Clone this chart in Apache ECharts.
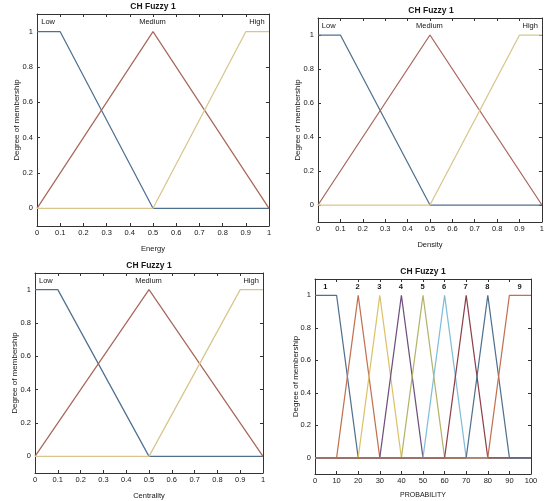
<!DOCTYPE html>
<html>
<head>
<meta charset="utf-8">
<script src="https://cdn.jsdelivr.net/npm/echarts@6/dist/echarts.min.js"></script>
<style>
  html, body { margin: 0; padding: 0; background: #fff; }
  #chart { width: 547px; height: 501px; }
</style>
</head>
<body>
<div id="chart"></div>
<script>
// Three-set membership functions (Low / Medium / High) shared by Energy, Density, Centrality
const termNames = ['Low', 'Medium', 'High'];
const termPeaks = [0.05, 0.5, 0.95];
const mfLow    = [[0, 1], [0.1, 1], [0.5, 0], [1, 0]];
const mfMedium = [[0, 0], [0.5, 1], [1, 0]];
const mfHigh   = [[0, 0], [0.5, 0], [0.9, 1], [1, 1]];

const inputNames = ['Energy', 'Density', 'Centrality'];

// Nine-set output membership functions on PROBABILITY
const probNames = ['1', '2', '3', '4', '5', '6', '7', '8', '9'];
const probPeaks = [5, 20, 30, 40, 50, 60, 70, 80, 95];
const mfP1 = [[0, 1], [10, 1], [20, 0], [100, 0]];
const mfP2 = [[0, 0], [10, 0], [20, 1], [30, 0], [100, 0]];
const mfP3 = [[0, 0], [20, 0], [30, 1], [40, 0], [100, 0]];
const mfP4 = [[0, 0], [30, 0], [40, 1], [50, 0], [100, 0]];
const mfP5 = [[0, 0], [40, 0], [50, 1], [60, 0], [100, 0]];
const mfP6 = [[0, 0], [50, 0], [60, 1], [70, 0], [100, 0]];
const mfP7 = [[0, 0], [60, 0], [70, 1], [80, 0], [100, 0]];
const mfP8 = [[0, 0], [70, 0], [80, 1], [90, 0], [100, 0]];
const mfP9 = [[0, 0], [80, 0], [90, 1], [100, 1]];

const yTicks = [0, 0.2, 0.4, 0.6, 0.8, 1];
const labelLevel = 1.05;

const termColors = ['#4f7190', '#a8675a', '#d9c58c'];
const probColors = ['#4f7190', '#c2704f', '#dcc267', '#6e4f7e', '#b3b36a', '#7fbddb', '#8c3f4c', '#4f7190', '#c2704f'];

// Plot boxes for the four panels
const boxes = [
  { left: 37,  top: 14,  width: 232, height: 212, name: inputNames[0], nameGap: 19, yGap: 16 },
  { left: 318, top: 18,  width: 226, height: 204, name: inputNames[1], nameGap: 19, yGap: 16 },
  { left: 35,  top: 273, width: 228, height: 208, name: inputNames[2], nameGap: 19, yGap: 16 },
  { left: 315, top: 279, width: 216, height: 195, name: 'PROBABILITY', nameGap: 18, yGap: 15 }
];

const FONT = 'Liberation Sans, Arial, Helvetica, sans-serif';
const INK = '#161616';
const FRAME = '#333333';

const grid = [], xAxis = [], yAxis = [], title = [], series = [];

boxes.forEach((b, i) => {
  grid.push({ left: b.left, top: b.top, width: b.width, height: b.height, containLabel: false });
  title.push({
    text: 'CH Fuzzy 1', padding: 0,
    left: b.left + b.width / 2, top: b.top - 12, textAlign: 'center',
    textStyle: { fontFamily: FONT, fontSize: 8.5, fontWeight: 'bold', color: INK }
  });
  const isProb = i === 3;
  const xCommon = {
    type: 'value', gridIndex: i,
    min: 0, max: isProb ? 100 : 1, interval: isProb ? 10 : 0.1,
    splitLine: { show: false },
    axisLine: { show: true, onZero: false, lineStyle: { color: FRAME, width: 1 } },
    axisTick: { show: true, inside: true, length: 3, lineStyle: { color: FRAME } }
  };
  xAxis.push(Object.assign({}, xCommon, {
    position: 'bottom',
    name: b.name, nameLocation: 'middle', nameGap: b.nameGap, nameMoveOverlap: false,
    nameTextStyle: { fontFamily: FONT, fontSize: isProb ? 7 : 7.5, color: INK },
    axisLabel: { show: true, margin: 3, fontFamily: FONT, fontSize: 7.5, color: INK }
  }));
  xAxis.push(Object.assign({}, xCommon, { position: 'top', axisLabel: { show: false } }));

  const yCommon = {
    type: 'value', gridIndex: i, min: -0.1, max: 1.1,
    splitLine: { show: false },
    axisLine: { show: true, onZero: false, lineStyle: { color: FRAME, width: 1 } },
    axisTick: { show: true, inside: true, length: 3, customValues: yTicks, lineStyle: { color: FRAME } }
  };
  yAxis.push(Object.assign({}, yCommon, {
    position: 'left',
    name: 'Degree of membership', nameLocation: 'middle', nameGap: b.yGap, nameMoveOverlap: false,
    nameTextStyle: { fontFamily: FONT, fontSize: 8, color: INK },
    axisLabel: { show: true, margin: 4, customValues: yTicks, fontFamily: FONT, fontSize: 7.5, color: INK }
  }));
  yAxis.push(Object.assign({}, yCommon, { position: 'right', axisLabel: { show: false } }));
});

function mfLine(data, color, panel) {
  return {
    type: 'line', data: data, xAxisIndex: panel * 2, yAxisIndex: panel * 2,
    showSymbol: false, symbol: 'none', silent: true,
    lineStyle: { color: color, width: 1.25 }
  };
}

// Set names written at each membership function's peak
function termLabels(names, peaks, panel) {
  return {
    type: 'scatter', xAxisIndex: panel * 2, yAxisIndex: panel * 2,
    symbolSize: 1, silent: true,
    itemStyle: { opacity: 0 },
    data: names.map((n, k) => ({ value: [peaks[k], labelLevel], name: n })),
    label: {
      show: true, position: [0, 0], align: 'center', verticalAlign: 'middle',
      formatter: p => p.name, opacity: 1,
      textBorderWidth: 0,
      fontFamily: FONT, fontSize: 7.5,
      fontWeight: panel === 3 ? 'bold' : 'normal', color: INK
    }
  };
}

[0, 1, 2].forEach(p => {
  series.push(mfLine(mfLow, termColors[0], p));
  series.push(mfLine(mfMedium, termColors[1], p));
  series.push(mfLine(mfHigh, termColors[2], p));
  series.push(termLabels(termNames, termPeaks, p));
});

[mfP1, mfP2, mfP3, mfP4, mfP5, mfP6, mfP7, mfP8, mfP9].forEach((d, k) => {
  series.push(mfLine(d, probColors[k], 3));
});
series.push(termLabels(probNames, probPeaks, 3));

const chart = echarts.init(document.getElementById('chart'), null, { renderer: 'canvas' });
chart.setOption({
  animation: false,
  backgroundColor: '#ffffff',
  title: title, grid: grid, xAxis: xAxis, yAxis: yAxis, series: series
});
</script>
</body>
</html>
